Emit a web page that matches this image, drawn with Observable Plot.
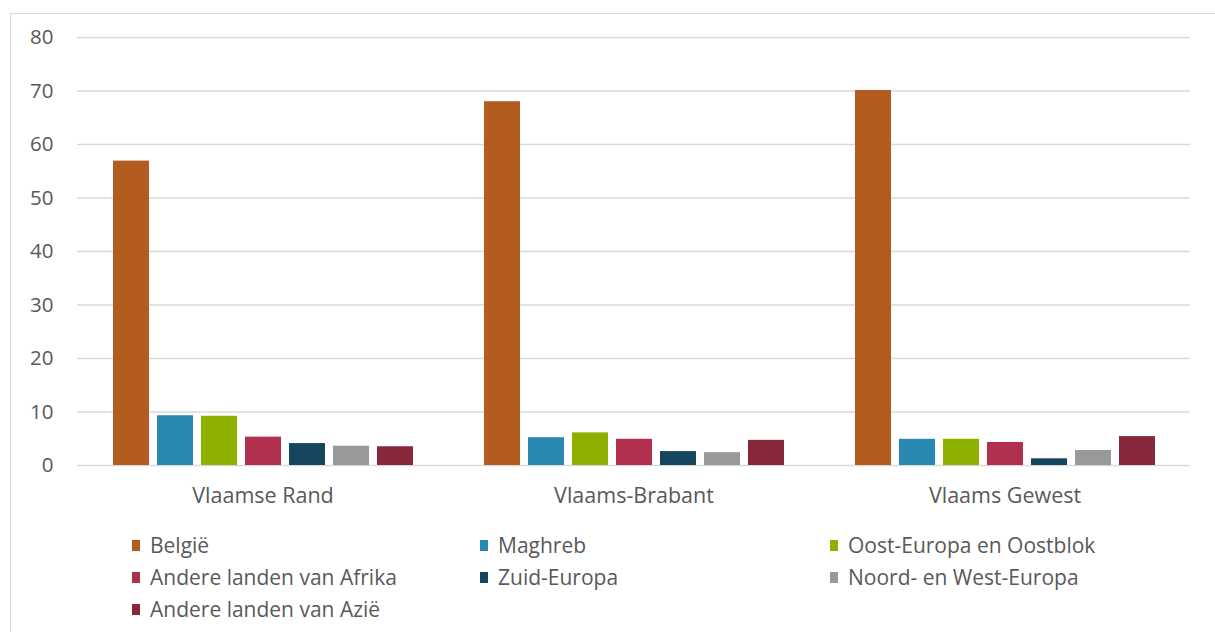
<!DOCTYPE html>
<html>
<head>
<meta charset="utf-8">
<script src="https://cdn.jsdelivr.net/npm/d3@7"></script>
<script src="https://cdn.jsdelivr.net/npm/@observablehq/plot@0.6"></script>
<style>
  body { margin: 0; background: #fff; font-family: "Open Sans", sans-serif; }
  #frame { position: absolute; left: 10px; top: 13px; width: 1220px; height: 640px; border: 1px solid #d9d9d9; box-sizing: border-box; pointer-events: none; }
  #chart { position: absolute; left: 0; top: 0; }
  #legend { position: absolute; left: 132px; top: 533px; display: grid; grid-template-columns: 348px 350px 360px; row-gap: 8px; color: #595959; font-size: 21px; }
  .item { display: flex; align-items: center; height: 24px; white-space: nowrap; }
  .sw { width: 8px; height: 11px; margin-right: 10px; flex: none; }
</style>
</head>
<body>
<div id="chart"></div>
<div id="legend"></div>
<div id="frame"></div>
<script>
const regions = ["Vlaamse Rand", "Vlaams-Brabant", "Vlaams Gewest"];
const origins = ["België", "Maghreb", "Oost-Europa en Oostblok", "Andere landen van Afrika", "Zuid-Europa", "Noord- en West-Europa", "Andere landen van Azië"];
const colors = ["#b35c20", "#2a89b3", "#8eb100", "#b0304d", "#16465f", "#999999", "#88263a"];
const valuesVlaamseRand = [56.9, 9.3, 9.2, 5.3, 4.1, 3.6, 3.5];
const valuesVlaamsBrabant = [68.0, 5.2, 6.1, 4.9, 2.6, 2.4, 4.7];
const valuesVlaamsGewest = [70.1, 4.9, 4.9, 4.3, 1.25, 2.8, 5.4];
const yTicks = [0, 10, 20, 30, 40, 50, 60, 70, 80];

const series = [valuesVlaamseRand, valuesVlaamsBrabant, valuesVlaamsGewest];
const data = [];
regions.forEach((r, i) => origins.forEach((o, j) => data.push({region: r, origin: o, value: series[i][j]})));

const chart = Plot.plot({
  width: 1215,
  height: 510,
  marginTop: 37,
  marginBottom: 45,
  marginLeft: 76,
  marginRight: 25,
  style: { fontFamily: "'Open Sans', sans-serif", fontSize: "20px", color: "#595959", background: "transparent" },
  fx: { domain: regions, padding: 0, label: null, axis: null },
  x: { domain: origins, paddingInner: 0.19, paddingOuter: 0.77, axis: null },
  y: { domain: [0, 80], ticks: yTicks, label: null, axis: null },
  color: { domain: origins, range: colors },
  marks: [
    Plot.ruleY(yTicks, { stroke: "#d9d9d9", strokeWidth: 1.5, strokeOpacity: 1 }),
    Plot.axisY(yTicks, { tickSize: 0, tickPadding: 24, fontSize: 20.5, label: null }),
    Plot.axisFx({ anchor: "bottom", tickSize: 0, tickPadding: 22, fontSize: 21.5, label: null }),
    Plot.barY(data, { fx: "region", x: "origin", y: "value", fill: "origin" })
  ]
});
document.getElementById("chart").appendChild(chart);

const legend = document.getElementById("legend");
origins.forEach((o, i) => {
  const d = document.createElement("div");
  d.className = "item";
  d.innerHTML = `<span class="sw" style="background:${colors[i]}"></span><span>${o}</span>`;
  legend.appendChild(d);
});
</script>
</body>
</html>
